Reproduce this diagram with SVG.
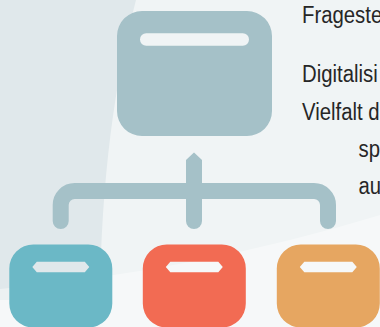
<svg xmlns="http://www.w3.org/2000/svg" width="380" height="327" viewBox="0 0 380 327">
  <style>
    .txt { font-family: "Liberation Sans", Arial, sans-serif; font-size: 24.5px; fill: #262626; }
    .conn { fill: none; stroke: #a5c1c8; stroke-width: 16; stroke-linecap: round; stroke-linejoin: round; }
  </style>
  <defs>
    <path id="child" fill-rule="evenodd" d="M24,0 H79 A24,24 0 0 1 103,24 V59 A24,24 0 0 1 79,83 H24 A24,24 0 0 1 0,59 V24 A24,24 0 0 1 24,0 Z M23,22.5 L27.5,17.3 H75.5 L80,22.5 L75.5,27.8 H27.5 Z"/>
  </defs>
  <!-- background -->
  <rect x="0" y="0" width="380" height="327" fill="#f0f4f5"/>
  <path d="M0,0 L136,0 C115,80 101,180 100,300 L0,300 Z" fill="#e0e8eb"/>
  <path d="M0,289 Q200,270 380,215 L380,327 L0,327 Z" fill="#ffffff" fill-opacity="0.38"/>

  <!-- connectors -->
  <g id="connectors">
    <path class="conn" d="M60.7,221 V205 A14,14 0 0 1 74.7,191 H314 A14,14 0 0 1 328,205 V221"/>
    <path d="M186,160 L194,152.5 L202,160 V221 A8,8 0 0 1 186,221 Z" fill="#a5c1c8"/>
  </g>

  <!-- nodes -->
  <g id="node-top">
    <path fill="#a5c1c8" fill-rule="evenodd" d="M142,11 H247 A25,25 0 0 1 272,36 V111 A25,25 0 0 1 247,136 H142 A25,25 0 0 1 117,111 V36 A25,25 0 0 1 142,11 Z M146.2,33.3 H242.8 A6.2,6.2 0 0 1 242.8,45.7 H146.2 A6.2,6.2 0 0 1 146.2,33.3 Z"/>
  </g>
  <g id="node-blue">
    <use href="#child" transform="translate(9.3,244.5)" fill="#6bb8c6"/>
  </g>
  <g id="node-red">
    <use href="#child" transform="translate(142.8,244.5)" fill="#f26b53"/>
  </g>
  <g id="node-orange">
    <use href="#child" transform="translate(276.8,244.5)" fill="#e6a661"/>
  </g>

  <!-- text -->
  <g id="text">
    <text class="txt" transform="translate(302,22.5) scale(0.83,1)">Frageste</text>
    <text class="txt" transform="translate(302,82) scale(0.83,1)">Digitalisi</text>
    <text class="txt" transform="translate(302,120) scale(0.83,1)">Vielfalt d</text>
    <text class="txt" transform="translate(358.5,157) scale(0.83,1)">sp</text>
    <text class="txt" transform="translate(358.5,194) scale(0.83,1)">au</text>
  </g>
</svg>
